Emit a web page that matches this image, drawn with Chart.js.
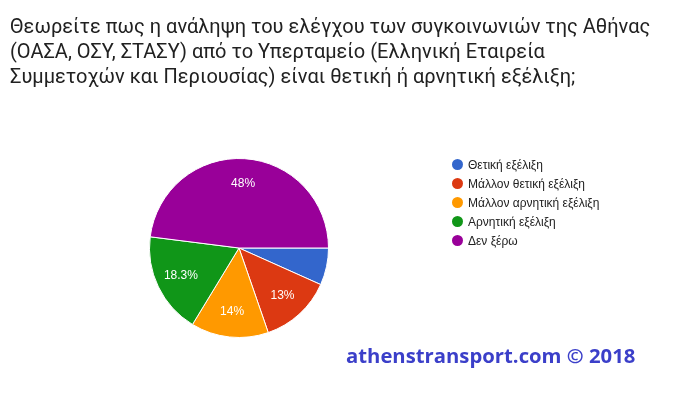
<!DOCTYPE html>
<html>
<head>
<meta charset="utf-8">
<script src="https://cdn.jsdelivr.net/npm/chart.js@4"></script>
<style>
  html, body { margin: 0; padding: 0; background: #fff; }
  #wrap { position: relative; width: 678px; height: 401px; overflow: hidden; }
  #myChart { position: absolute; left: 0; top: 0; }
  #title {
    position: absolute; left: 10px; top: 14px; white-space: nowrap;
    font-family: Roboto, sans-serif; font-size: 20px; line-height: 25px; color: #212121;
  }
  #legend {
    position: absolute; left: 452px; top: 157px;
    font-family: Arial, "Liberation Sans", sans-serif; font-size: 12px; color: #222;
  }
  #legend div { height: 19px; line-height: 16px; white-space: nowrap; }
  #legend span.dot {
    display: inline-block; width: 11px; height: 11px; border-radius: 50%;
    vertical-align: -1px; margin-right: 5px;
  }
  #mark {
    position: absolute; left: 346px; top: 341px;
    font-family: "Open Sans", sans-serif; font-weight: bold; font-size: 20.3px; color: #3b3fc9;
  }
</style>
</head>
<body>
<div id="wrap">
  <canvas id="myChart" width="678" height="401"></canvas>
  <div id="title">Θεωρείτε πως η ανάληψη του ελέγχου των συγκοινωνιών της Αθήνας<br>(ΟΑΣΑ, ΟΣΥ, ΣΤΑΣΥ) από το Υπερταμείο (Ελληνική Εταιρεία<br>Συμμετοχών και Περιουσίας) είναι θετική ή αρνητική εξέλιξη;</div>
  <div id="legend"></div>
  <div id="mark">athenstransport.com © 2018</div>
</div>
<script>
// answers and their share of votes (%)
const answers = ['Θετική εξέλιξη', 'Μάλλον θετική εξέλιξη', 'Μάλλον αρνητική εξέλιξη', 'Αρνητική εξέλιξη', 'Δεν ξέρω'];
const shares = [6.7, 13, 14, 18.3, 48];
const colors = ['#3366cc', '#dc3912', '#ff9900', '#109618', '#990099'];

// legend
const legend = document.getElementById('legend');
answers.forEach((a, i) => {
  const row = document.createElement('div');
  row.innerHTML = '<span class="dot" style="background:' + colors[i] + '"></span>' + a;
  legend.appendChild(row);
});

// percent text inside the slices
const sliceLabels = {
  id: 'sliceLabels',
  afterDatasetsDraw(chart) {
    const ctx = chart.ctx;
    const meta = chart.getDatasetMeta(0);
    ctx.save();
    ctx.font = '12px Arial, "Liberation Sans", sans-serif';
    ctx.fillStyle = '#fff';
    ctx.textAlign = 'center';
    ctx.textBaseline = 'middle';
    meta.data.forEach((arc, i) => {
      const v = shares[i];
      if (v < 10) return;
      const p = arc.getProps(['x', 'y', 'startAngle', 'endAngle', 'outerRadius'], true);
      const mid = (p.startAngle + p.endAngle) / 2;
      const r = p.outerRadius * 0.72;
      ctx.fillText(Number(v.toFixed(1)) + '%', p.x + Math.cos(mid) * r, p.y + Math.sin(mid) * r);
    });
    ctx.restore();
  }
};

const ctx = document.getElementById('myChart').getContext('2d');
const myChart = new Chart(ctx, {
  type: 'pie',
  data: {
    labels: answers,
    datasets: [{
      data: shares,
      backgroundColor: colors,
      borderColor: '#fff',
      borderWidth: 1
    }]
  },
  options: {
    responsive: false,
    animation: false,
    rotation: 90,
    layout: { padding: { left: 149, right: 349, top: 158, bottom: 63 } },
    plugins: {
      legend: { display: false },
      tooltip: { enabled: false }
    }
  },
  plugins: [sliceLabels]
});
</script>
</body>
</html>
